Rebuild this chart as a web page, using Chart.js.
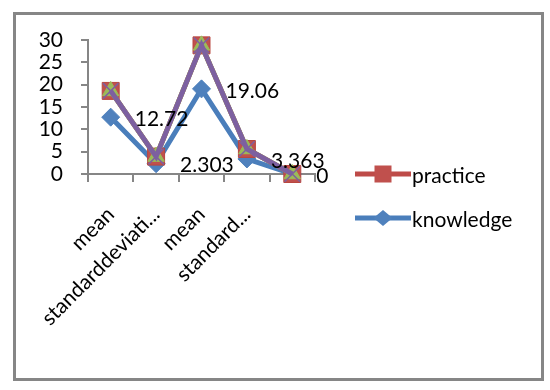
<!DOCTYPE html>
<html>
<head>
<meta charset="utf-8">
<script src="https://cdn.jsdelivr.net/npm/chart.js@4.4.1/dist/chart.umd.min.js"></script>
<style>
html,body{margin:0;padding:0;background:#fff;}
#wrap{position:relative;width:550px;height:390px;overflow:hidden;}
#frame{position:absolute;left:13px;top:12px;width:525px;height:363px;border:3px solid #868686;}
#c{position:absolute;left:0;top:0;}
.leg{position:absolute;left:0;top:0;}
.leg canvas{position:absolute;left:355px;}
.leg span{position:absolute;left:412px;font:21px Lato;line-height:21px;color:#000;white-space:nowrap;}
</style>
</head>
<body>
<div id="wrap"><div id="frame"></div><canvas id="c" width="550" height="390"></canvas><div id="legend" class="leg"></div></div>
<script>
// ---- data ----
const categories = ['mean', 'standarddeviati...', 'mean', 'standard...', ''];
const knowledge = [12.72, 2.303, 19.06, 3.363, 0];
const practice  = [18.6, 3.9, 28.8, 5.6, 0];   // plotted positions of the red squares
const series3   = [18.6, 3.9, 28.8, 5.6, 0];   // green triangles (coincide with practice)
const series4   = [18.6, 3.9, 28.8, 5.6, 0];   // purple line with X markers
const legendNames = ['practice', 'knowledge'];
const yTicks = {min: 0, max: 30, step: 5};

const FONT = 'Lato';
const FS = 21;

const COLORS = {
  knowledge: {line: '#4A7EBB', fill: '#4F81BD'},
  practice:  {line: '#BE4B48', fill: '#C0504D'},
  series3:   {line: '#98B954', fill: '#9BBB59'},
  series4:   {line: '#7D60A0', fill: '#7D60A0'}
};

const dataLabels = {
  id: 'dataLabels',
  afterDatasetsDraw(chart) {
    const idx = chart.data.datasets.findIndex(d => d.label === 'knowledge');
    const meta = chart.getDatasetMeta(idx);
    const c = chart.ctx;
    c.save();
    c.font = FS + 'px ' + FONT;
    c.fillStyle = '#000';
    c.textAlign = 'left';
    c.textBaseline = 'middle';
    meta.data.forEach((pt, i) => {
      c.fillText(String(knowledge[i]), pt.x + 24, pt.y + 2);
    });
    c.restore();
  }
};

const chart = new Chart(document.getElementById('c'), {
  type: 'line',
  data: {
    labels: categories,
    datasets: [
      {label: 'series4', data: series4, borderColor: COLORS.series4.line, backgroundColor: COLORS.series4.fill,
       borderWidth: 5, pointStyle: 'crossRot', pointRadius: 11, pointBorderWidth: 1.5,
       pointBorderColor: COLORS.series4.fill, tension: 0, clip: false},
      {label: 'series3', data: series3, borderColor: COLORS.series3.line, backgroundColor: COLORS.series3.fill,
       borderWidth: 5, pointStyle: 'triangle', pointRadius: 9.5, pointBorderWidth: 1,
       pointBorderColor: COLORS.series3.fill, tension: 0, clip: false},
      {label: 'practice', data: practice, borderColor: COLORS.practice.line, backgroundColor: COLORS.practice.fill,
       borderWidth: 5, pointStyle: 'rect', pointRadius: 12, pointBorderWidth: 1,
       pointBorderColor: '#B9473F', tension: 0, clip: false},
      {label: 'knowledge', data: knowledge, borderColor: COLORS.knowledge.line, backgroundColor: COLORS.knowledge.fill,
       borderWidth: 5, pointStyle: 'rectRot', pointRadius: 9, pointBorderWidth: 1,
       pointBorderColor: COLORS.knowledge.fill, tension: 0, clip: false}
    ]
  },
  options: {
    responsive: false,
    animation: false,
    devicePixelRatio: 1,
    layout: {padding: {left: 0, top: 40, right: 235, bottom: 37}},
    plugins: {
      tooltip: {enabled: false},
      legend: {display: false}
    },
    scales: {
      x: {
        offset: true,
        grid: {offset: true, drawOnChartArea: false, tickLength: 8, color: '#868686', lineWidth: 2},
        border: {color: '#868686', width: 2},
        ticks: {font: {family: FONT, size: FS}, color: '#000', maxRotation: 45, minRotation: 45, padding: 20, autoSkip: false},
        afterFit(s) { s.height = 179; }
      },
      y: {
        min: yTicks.min, max: yTicks.max,
        grid: {drawOnChartArea: false, tickLength: 7, color: '#868686', lineWidth: 2},
        border: {color: '#868686', width: 2},
        ticks: {stepSize: yTicks.step, autoSkip: false, font: {family: FONT, size: FS}, color: '#000', padding: 18},
        afterFit(s) { s.width = 88; }
      }
    }
  },
  plugins: [dataLabels]
});

// HTML legend (line + marker icon, then name)
(function buildLegend() {
  const box = document.getElementById('legend');
  const rowBaseline = [183, 227];
  legendNames.forEach((name, i) => {
    const ds = chart.data.datasets.find(d => d.label === name);
    const cv = document.createElement('canvas');
    cv.width = 56; cv.height = 22;
    cv.style.top = (rowBaseline[i] - 9 - 11) + 'px';
    const g = cv.getContext('2d');
    g.strokeStyle = ds.borderColor; g.lineWidth = 5;
    g.beginPath(); g.moveTo(0, 11); g.lineTo(56, 11); g.stroke();
    g.fillStyle = ds.backgroundColor;
    if (ds.pointStyle === 'rect') {
      g.fillRect(19.5, 2.5, 17, 17);
    } else {
      g.beginPath(); g.moveTo(28, 3); g.lineTo(37.5, 11); g.lineTo(28, 19); g.lineTo(18.5, 11); g.closePath(); g.fill();
    }
    const sp = document.createElement('span');
    sp.textContent = name;
    sp.style.top = (rowBaseline[i] - 18.6) + 'px';
    box.appendChild(cv);
    box.appendChild(sp);
  });
})();
</script>
</body>
</html>
